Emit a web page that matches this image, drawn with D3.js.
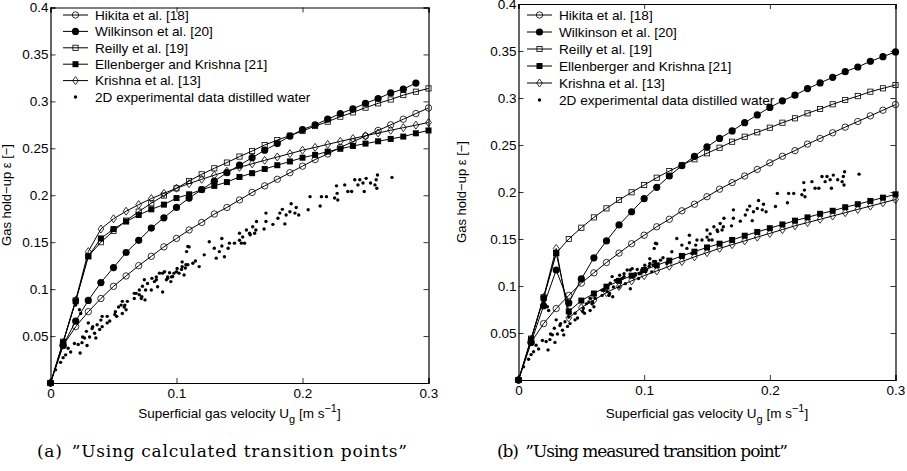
<!DOCTYPE html>
<html>
<head>
<meta charset="utf-8">
<script src="https://cdn.jsdelivr.net/npm/d3@7"></script>
<style>
  body { margin: 0; background: #fff; }
  svg { display: block; font-family: "Liberation Sans", Arial, sans-serif; }
</style>
</head>
<body>
<div id="chart"></div>
<script>
// superficial gas velocity grid [m/s]
const ug = [0, 0.01, 0.02, 0.03, 0.04, 0.05, 0.06, 0.07, 0.08, 0.09, 0.10,
  0.11, 0.12, 0.13, 0.14, 0.15, 0.16, 0.17, 0.18, 0.19, 0.20,
  0.21, 0.22, 0.23, 0.24, 0.25, 0.26, 0.27, 0.28, 0.29, 0.30]

// correlations (same in both panels)
const hikita = [0, 0.040, 0.060, 0.076, 0.090, 0.103, 0.114, 0.125, 0.135, 0.145, 0.154,
  0.163, 0.171, 0.180, 0.187, 0.195, 0.203, 0.210, 0.217, 0.224, 0.231,
  0.238, 0.244, 0.251, 0.257, 0.263, 0.269, 0.275, 0.281, 0.287, 0.293]
const reilly = [0, 0.044, 0.088, 0.135, 0.150, 0.162, 0.173, 0.1826, 0.1915, 0.1997, 0.2074,
  0.2152, 0.2223, 0.2287, 0.2348, 0.2412, 0.2471, 0.2535, 0.2588, 0.2635, 0.2684,
  0.2737, 0.2784, 0.2837, 0.2883, 0.2933, 0.2979, 0.302, 0.3067, 0.3103, 0.3138]

// (a) calculated transition points
const wilkinsonA = [0, 0.040, 0.066, 0.088, 0.107, 0.123, 0.139, 0.152, 0.165, 0.176, 0.187,
  0.197, 0.206, 0.215, 0.224, 0.232, 0.240, 0.248, 0.255, 0.263, 0.270,
  0.275, 0.281, 0.287, 0.292, 0.298, 0.303, 0.309, 0.313, 0.3195]
const ellenbergerA = [0, 0.043, 0.087, 0.135, 0.154, 0.164, 0.172, 0.179, 0.185, 0.190, 0.197,
  0.201, 0.206, 0.210, 0.214, 0.2195, 0.2235, 0.228, 0.232, 0.236, 0.240,
  0.243, 0.2465, 0.2495, 0.2525, 0.255, 0.2575, 0.260, 0.2625, 0.266, 0.269]
const krishnaA = [0, 0.043, 0.088, 0.140, 0.164, 0.175, 0.183, 0.190, 0.1965, 0.202, 0.2075,
  0.2124, 0.217, 0.2214, 0.2256, 0.2297, 0.2335, 0.2372, 0.2408, 0.2443, 0.248,
  0.251, 0.2542, 0.2574, 0.2604, 0.2634, 0.2663, 0.2692, 0.272, 0.2747, 0.2775]

// (b) measured transition point
const wilkinsonB = [0, 0.040, 0.079, 0.117, 0.082, 0.1075, 0.130, 0.148, 0.165, 0.179, 0.193,
  0.205, 0.217, 0.228, 0.238, 0.248, 0.257, 0.265, 0.2737, 0.282, 0.290,
  0.297, 0.303, 0.310, 0.316, 0.322, 0.328, 0.333, 0.339, 0.344, 0.349]
const ellenbergerB = [0, 0.043, 0.087, 0.135, 0.073, 0.0845, 0.092, 0.0993, 0.1055, 0.111, 0.117,
  0.122, 0.127, 0.132, 0.1365, 0.141, 0.145, 0.149, 0.1535, 0.1575, 0.1615,
  0.1655, 0.1695, 0.173, 0.1768, 0.180, 0.1838, 0.187, 0.1905, 0.194, 0.1975]
const krishnaB = [0, 0.043, 0.088, 0.140, 0.066, 0.077, 0.085, 0.093, 0.0995, 0.1055, 0.111,
  0.116, 0.121, 0.126, 0.131, 0.1355, 0.140, 0.144, 0.148, 0.152, 0.156,
  0.160, 0.164, 0.1675, 0.171, 0.1745, 0.178, 0.1815, 0.185, 0.1885, 0.192]

// 2D experimental data, distilled water [Ug, eps]
const expData = [[0.004,0.014],[0.008,0.022],[0.010,0.027],[0.012,0.030],[0.014,0.037],[0.016,0.033],
  [0.019,0.042],[0.020,0.083],[0.022,0.041],[0.023,0.078],[0.0235,0.032],[0.024,0.074],[0.025,0.043],
  [0.0255,0.049],[0.027,0.048],[0.0285,0.055],[0.029,0.040],[0.030,0.064],[0.031,0.049],[0.033,0.058],
  [0.0335,0.060],[0.035,0.053],[0.036,0.048],[0.037,0.062],[0.039,0.057],[0.040,0.067],[0.041,0.060],
  [0.041,0.071],[0.045,0.064],[0.045,0.071],[0.047,0.066],[0.051,0.073],[0.0515,0.076],[0.0525,0.071],
  [0.054,0.081],[0.056,0.083],[0.057,0.074],[0.0585,0.081],[0.059,0.083],[0.060,0.078],[0.061,0.087],
  [0.057,0.087],[0.0665,0.0955],[0.0665,0.090],[0.068,0.0955],[0.0705,0.094],[0.0705,0.099],[0.072,0.090],
  [0.0725,0.092],[0.073,0.103],[0.0745,0.110],[0.075,0.0885],[0.0755,0.099],[0.077,0.106],[0.080,0.099],
  [0.0805,0.1115],[0.0825,0.108],[0.084,0.110],[0.084,0.113],[0.085,0.1025],[0.0865,0.117],[0.089,0.097],
  [0.089,0.117],[0.0905,0.1185],[0.092,0.110],[0.093,0.1115],[0.093,0.113],[0.0945,0.1175],[0.096,0.113],
  [0.0955,0.108],[0.097,0.1135],[0.098,0.117],[0.100,0.1185],[0.1005,0.122],[0.102,0.117],[0.104,0.121],
  [0.1045,0.124],[0.1045,0.129],[0.106,0.115],[0.107,0.1225],[0.1075,0.126],[0.108,0.140],[0.109,0.1455],
  [0.109,0.126],[0.110,0.145],[0.113,0.1275],[0.115,0.130],[0.118,0.124],[0.122,0.1365],[0.126,0.1505],
  [0.130,0.1435],[0.1315,0.133],[0.134,0.140],[0.136,0.154],[0.136,0.146],[0.138,0.1345],[0.141,0.1435],
  [0.142,0.149],[0.146,0.149],[0.150,0.152],[0.150,0.1595],[0.1515,0.149],[0.1525,0.1555],[0.154,0.149],
  [0.1555,0.163],[0.1585,0.158],[0.158,0.1595],[0.1605,0.1665],[0.162,0.1595],[0.163,0.163],[0.1635,0.172],
  [0.1695,0.164],[0.171,0.172],[0.171,0.181],[0.1765,0.169],[0.1805,0.1755],[0.182,0.181],[0.184,0.185],
  [0.186,0.1695],[0.187,0.179],[0.190,0.1825],[0.191,0.191],[0.194,0.181],[0.195,0.187],[0.197,0.179],
  [0.2045,0.1845],[0.206,0.1985],[0.214,0.1885],[0.215,0.1985],[0.219,0.1985],[0.2255,0.197],[0.2275,0.202],
  [0.228,0.195],[0.227,0.210],[0.2335,0.211],[0.236,0.204],[0.239,0.204],[0.2415,0.2165],[0.244,0.211],
  [0.2455,0.2165],[0.248,0.213],[0.2505,0.218],[0.249,0.204],[0.254,0.213],[0.2575,0.211],[0.259,0.2075],
  [0.2585,0.2165],[0.2595,0.2215],[0.271,0.219]]

const legendLabels = ["Hikita et al. [18]", "Wilkinson et al. [20]", "Reilly et al. [19]",
  "Ellenberger and Krishna [21]", "Krishna et al. [13]", "2D experimental data distilled water"]
const xTicks = [0, 0.1, 0.2, 0.3]
const yTicks = [0.05, 0.1, 0.15, 0.2, 0.25, 0.3, 0.35, 0.4]

const svg = d3.select("#chart").append("svg").attr("width", 907).attr("height", 471)

// marker drawing, MATLAB-ish
function marker(g, kind, x, y) {
  if (kind === "o") g.append("circle").attr("cx", x).attr("cy", y).attr("r", 3.2).attr("fill", "none").attr("stroke", "#000").attr("stroke-width", 0.8)
  if (kind === "*") g.append("circle").attr("cx", x).attr("cy", y).attr("r", 3.6).attr("fill", "#000")
  if (kind === "s") g.append("rect").attr("x", x - 2.6).attr("y", y - 2.6).attr("width", 5.2).attr("height", 5.2).attr("fill", "none").attr("stroke", "#000").attr("stroke-width", 0.8)
  if (kind === "S") g.append("rect").attr("x", x - 3).attr("y", y - 3).attr("width", 6).attr("height", 6).attr("fill", "#000")
  if (kind === "d") g.append("path").attr("d", `M${x},${y - 4}L${x + 2.9},${y}L${x},${y + 4}L${x - 2.9},${y}Z`).attr("fill", "none").attr("stroke", "#000").attr("stroke-width", 0.8)
  if (kind === ".") g.append("circle").attr("cx", x).attr("cy", y).attr("r", 1.7).attr("fill", "#000")
}

function drawPanel(p) {
  const x = d3.scaleLinear().domain([0, 0.3]).range([p.left, p.right])
  const y = d3.scaleLinear().domain([0, 0.4]).range([p.bottom, p.top])
  const g = svg.append("g")

  // legend (no box), drawn under the data
  const kinds = ["o", "*", "s", "S", "d", "."]
  const leg = g.append("g")
  legendLabels.forEach((lab, i) => {
    const ly = p.legY + i * p.legStep
    if (i < 5) leg.append("line").attr("x1", p.legX).attr("x2", p.legX + 25).attr("y1", ly).attr("y2", ly).attr("stroke", "#000").attr("stroke-width", 1)
    marker(leg, kinds[i], p.legX + 12.5, ly)
    leg.append("text").attr("x", p.legX + 32).attr("y", ly + 4.8).attr("font-size", 13.6).text(lab)
  })

  // series
  const line = d3.line().x(d => x(d[0])).y(d => y(d[1]))
  p.series.forEach((s, si) => {
    const pts = s.map((v, i) => [ug[i], v])
    g.append("path").attr("d", line(pts)).attr("fill", "none").attr("stroke", "#000").attr("stroke-width", 1)
    pts.forEach(d => marker(g, kinds[si], x(d[0]), y(d[1])))
  })
  expData.forEach(d => marker(g, ".", x(d[0]), y(d[1])))

  // axes: MATLAB box with inward ticks
  const fmt = d => String(+d.toFixed(2))
  g.append("g").attr("transform", `translate(0,${p.bottom})`)
    .call(d3.axisBottom(x).tickValues(xTicks).tickFormat(fmt).tickSize(-5).tickPadding(5))
  g.append("g").attr("transform", `translate(0,${p.top})`)
    .call(d3.axisTop(x).tickValues(xTicks).tickFormat("").tickSize(-5))
  g.append("g").attr("transform", `translate(${p.left},0)`)
    .call(d3.axisLeft(y).tickValues(yTicks).tickFormat(fmt).tickSize(-5).tickPadding(2))
  g.append("g").attr("transform", `translate(${p.right},0)`)
    .call(d3.axisRight(y).tickValues(yTicks).tickFormat("").tickSize(-5))
  g.selectAll(".domain").attr("stroke", "#000").attr("stroke-width", 1.2)
  g.selectAll(".tick line").attr("stroke", "#000").attr("stroke-width", 0.8)
  g.selectAll(".tick text").attr("font-size", 13.5).attr("font-family", "Liberation Sans, Arial, sans-serif").attr("fill", "#000")

  // axis titles
  const xt = g.append("text").attr("x", (p.left + p.right) / 2).attr("y", 418).attr("text-anchor", "middle").attr("font-size", 13.5)
  xt.append("tspan").text("Superficial gas velocity U")
  xt.append("tspan").attr("font-size", 11).attr("dy", 5).text("g")
  xt.append("tspan").attr("dy", -5).text(" [m s")
  xt.append("tspan").attr("font-size", 11).attr("dy", -6).text("\u22121")
  xt.append("tspan").attr("dy", 6).text("]")
  g.append("text").attr("transform", `translate(${p.yTitleX},${p.yTitleY}) rotate(-90)`)
    .attr("text-anchor", "middle").attr("font-size", 13).text("Gas hold\u2212up \u03b5 [\u2212]")

  // sub caption
  g.append("text").attr("x", p.capX).attr("y", 457).attr("font-family", "DejaVu Serif, serif").attr("font-size", 17)
    .attr("textLength", p.capW).attr("lengthAdjust", "spacing")
    .text(p.caption)
}

drawPanel({
  left: 50.5, right: 428.5, top: 7.5, bottom: 383,
  legX: 63, legY: 15, legStep: 16.4,
  yTitleX: 11, yTitleY: 195, capX: 37, capW: 370,
  series: [hikita, wilkinsonA, reilly, ellenbergerA, krishnaA],
  caption: "(a)\u2002\u201dUsing calculated transition points\u201d"
})
drawPanel({
  left: 518.5, right: 895.5, top: 4, bottom: 380,
  legX: 527, legY: 15, legStep: 17,
  yTitleX: 466, yTitleY: 192, capX: 497, capW: 291,
  series: [hikita, wilkinsonB, reilly, ellenbergerB, krishnaB],
  caption: "(b)\u2002\u201dUsing measured transition point\u201d"
})
</script>
</body>
</html>
